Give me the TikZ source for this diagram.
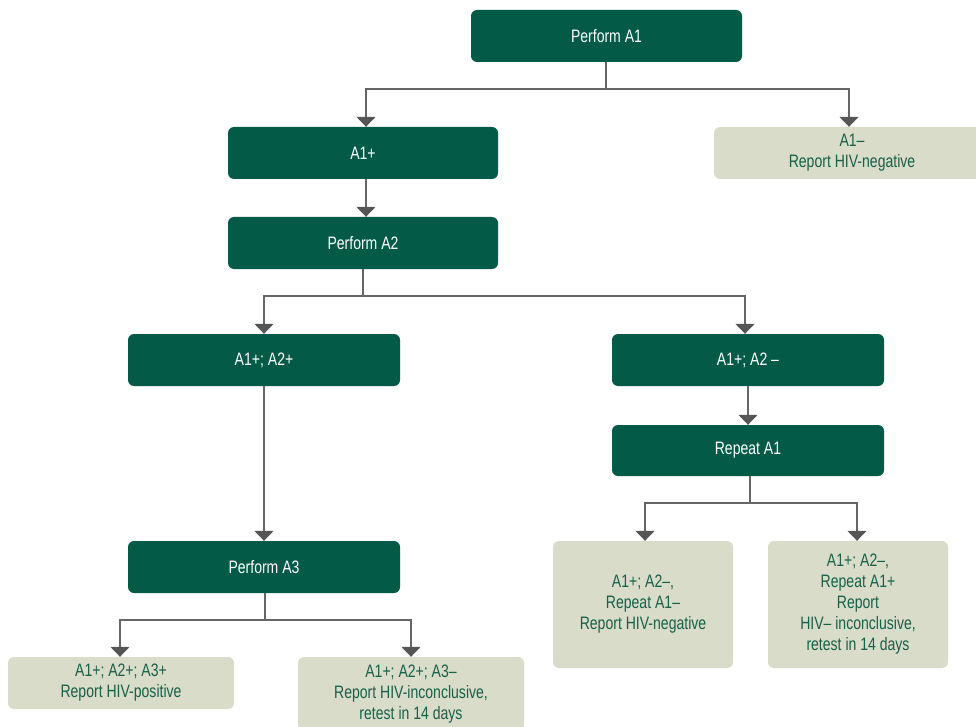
\documentclass[tikz,border=0pt]{standalone}
\usepackage{fontspec}
\setmainfont{Liberation Sans}[FakeStretch=0.78]
\usetikzlibrary{arrows.meta}
\definecolor{dkgreen}{HTML}{035A47}
\definecolor{ltgreen}{HTML}{D9DCC8}
\definecolor{txgreen}{HTML}{17604A}
\definecolor{linegray}{HTML}{666666}
\definecolor{arrgray}{HTML}{555555}
\tikzset{
  dkbox/.style={fill=dkgreen, rounded corners=6pt, text=white, align=center, inner sep=0pt},
  ltbox/.style={fill=ltgreen, rounded corners=6pt, text=txgreen, align=center, inner sep=0pt},
  conn/.style={draw=linegray, line width=1.4pt, -{Triangle[width=19pt,length=10pt,color=arrgray]}},
  plain/.style={draw=linegray, line width=1.4pt},
}
\newcommand{\bx}[7]{% style, name, x1,y1,x2,y2, text
  \node[#1, minimum width={(#5)-(#3)}, minimum height={(#6)-(#4)}] (#2) at ({((#3)+(#5))/2},{((#4)+(#6))/2}) {#7};}
\begin{document}
\begin{tikzpicture}[x=1pt,y=-1pt,font=\fontsize{18}{21}\selectfont]
\useasboundingbox (0,0) rectangle (976,727);
\begin{scope}
\clip (0,0) rectangle (976,727);
\bx{dkbox}{pa1}{471}{10}{742}{62}{Perform A1}
\bx{dkbox}{a1p}{228}{127}{498}{179}{A1+}
\bx{ltbox}{a1m}{714}{127}{990}{179}{A1–\\Report HIV-negative}
\bx{dkbox}{pa2}{228}{217}{498}{269}{Perform A2}
\bx{dkbox}{a2p}{128}{334}{400}{386}{A1+; A2+}
\bx{dkbox}{a2m}{612}{334}{884}{386}{A1+; A2 –}
\bx{dkbox}{ra1}{612}{425}{884}{476}{Repeat A1}
\bx{dkbox}{pa3}{128}{541}{400}{593}{Perform A3}
\bx{ltbox}{a3p}{8}{657}{234}{709}{A1+; A2+; A3+\\Report HIV-positive}
\bx{ltbox}{a3m}{298}{657}{524}{731}{A1+; A2+; A3–\\Report HIV-inconclusive,\\retest in 14 days}
\bx{ltbox}{rneg}{553}{541}{733}{668}{A1+; A2–,\\Repeat A1–\\Report HIV-negative}
\bx{ltbox}{rinc}{768}{541}{948}{668}{A1+; A2–,\\Repeat A1+\\Report\\HIV– inconclusive,\\retest in 14 days}
\end{scope}
% coordinates for junctions
\coordinate (j1) at (606,89);
\coordinate (j1l) at (366,89);
\coordinate (j1r) at (849,89);
\coordinate (j2) at (363,296);
\coordinate (j2l) at (264,296);
\coordinate (j2r) at (745,296);
\coordinate (j3) at (750,503);
\coordinate (j3l) at (645,503);
\coordinate (j3r) at (857,503);
\coordinate (j4) at (265,620);
\coordinate (j4l) at (120,620);
\coordinate (j4r) at (411,620);
\draw[plain] (pa1.south -| j1) -- (j1);
\draw[conn] (j1) -- (j1l) -- (j1l |- a1p.north);
\draw[conn] (j1) -- (j1r) -- (j1r |- a1m.north);
\draw[conn] (a1p.south -| j1l) -- (j1l |- pa2.north);
\draw[plain] (pa2.south -| j2) -- (j2);
\draw[conn] (j2) -- (j2l) -- (j2l |- a2p.north);
\draw[conn] (j2) -- (j2r) -- (j2r |- a2m.north);
\draw[conn] (a2p.south -| j2l) -- (j2l |- pa3.north);
\draw[conn] (a2m.south -| 748,0) -- (748,0 |- ra1.north);
\draw[plain] (ra1.south -| j3) -- (j3);
\draw[conn] (j3) -- (j3l) -- (j3l |- rneg.north);
\draw[conn] (j3) -- (j3r) -- (j3r |- rinc.north);
\draw[plain] (pa3.south -| j4) -- (j4);
\draw[conn] (j4) -- (j4l) -- (j4l |- a3p.north);
\draw[conn] (j4) -- (j4r) -- (j4r |- a3m.north);
\end{tikzpicture}
\end{document}
